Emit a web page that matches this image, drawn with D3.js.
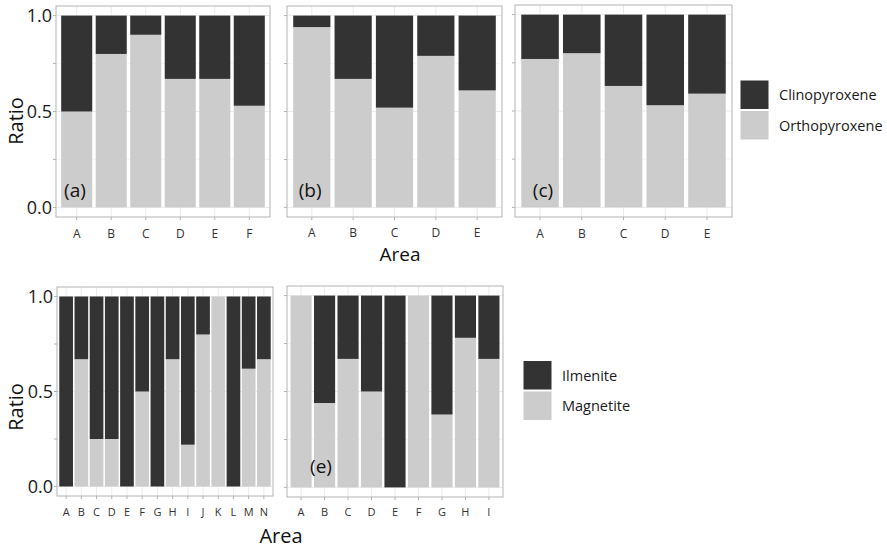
<!DOCTYPE html>
<html lang="en">
<head>
<meta charset="UTF-8">
<title>Mineral ratios by area</title>
<script src="https://cdn.jsdelivr.net/npm/d3@7"></script>
<style>
  body { margin: 0; background: #fff; }
  svg { display: block; font-family: "Open Sans", sans-serif; }
</style>
</head>
<body>
<script>
    // pyroxene panels (a), (b), (c)
    var areasA = ["A", "B", "C", "D", "E", "F"];
    var orthoA = [0.50, 0.80, 0.90, 0.67, 0.67, 0.53];
    var clinoA = [0.50, 0.20, 0.10, 0.33, 0.33, 0.47];

    var areasB = ["A", "B", "C", "D", "E"];
    var orthoB = [0.94, 0.67, 0.52, 0.79, 0.61];
    var clinoB = [0.06, 0.33, 0.48, 0.21, 0.39];

    var areasC = ["A", "B", "C", "D", "E"];
    var orthoC = [0.77, 0.80, 0.63, 0.53, 0.59];
    var clinoC = [0.23, 0.20, 0.37, 0.47, 0.41];

    // oxide panels (d), (e)
    var areasD = ["A", "B", "C", "D", "E", "F", "G", "H", "I", "J", "K", "L", "M", "N"];
    var magnetiteD = [0, 0.67, 0.25, 0.25, 0, 0.50, 0, 0.67, 0.22, 0.80, 1.00, 0, 0.62, 0.67];
    var ilmeniteD = [1.00, 0.33, 0.75, 0.75, 1.00, 0.50, 1.00, 0.33, 0.78, 0.20, 0, 1.00, 0.38, 0.33];

    var areasE = ["A", "B", "C", "D", "E", "F", "G", "H", "I"];
    var magnetiteE = [1.00, 0.44, 0.67, 0.50, 0, 1.00, 0.38, 0.78, 0.67];
    var ilmeniteE = [0, 0.56, 0.33, 0.50, 1.00, 0, 0.62, 0.22, 0.33];

    var yTicks = [0, 0.25, 0.5, 0.75, 1];
    var yTickLabels = ["0.0", "", "0.5", "", "1.0"];

    var width = 887, height = 548;
    var dark = "#333333", light = "#cccccc";

    var svg = d3.select("body").append("svg")
        .attr("width", width)
        .attr("height", height);

    function drawPanel(p) {
        var x = d3.scaleBand()
            .domain(p.cats)
            .range([p.x0, p.x1])
            .paddingInner(0.1)
            .paddingOuter(0.15);
        var y = d3.scaleLinear()
            .domain([-0.05, 1.05])
            .range([p.y1, p.y0]);

        var rows = p.cats.map(function (c, i) {
            var r = {area: c};
            r[p.keys[0]] = p.low[i];
            r[p.keys[1]] = p.high[i];
            return r;
        });
        var series = d3.stack().keys(p.keys)(rows);

        var g = svg.append("g");

        // grid
        g.selectAll(".minor").data([0.25, 0.75]).join("line")
            .attr("x1", p.x0).attr("x2", p.x1)
            .attr("y1", function (d) { return y(d); })
            .attr("y2", function (d) { return y(d); })
            .attr("stroke", "#f0f0f0").attr("stroke-width", 0.6);
        g.selectAll(".major").data([0, 0.5, 1]).join("line")
            .attr("x1", p.x0).attr("x2", p.x1)
            .attr("y1", function (d) { return y(d); })
            .attr("y2", function (d) { return y(d); })
            .attr("stroke", "#e6e6e6").attr("stroke-width", 0.8);
        g.selectAll(".vgrid").data(p.cats).join("line")
            .attr("x1", function (d) { return x(d) + x.bandwidth() / 2; })
            .attr("x2", function (d) { return x(d) + x.bandwidth() / 2; })
            .attr("y1", p.y0).attr("y2", p.y1)
            .attr("stroke", "#e6e6e6").attr("stroke-width", 0.8);

        // bars
        g.selectAll(".layer").data(series).join("g")
            .attr("fill", function (s) { return s.key === p.keys[0] ? light : dark; })
            .selectAll("rect").data(function (s) { return s; }).join("rect")
            .attr("x", function (d) { return x(d.data.area); })
            .attr("width", x.bandwidth())
            .attr("y", function (d) { return y(d[1]); })
            .attr("height", function (d) { return y(d[0]) - y(d[1]); });

        // border
        g.append("rect")
            .attr("x", p.x0).attr("y", p.y0)
            .attr("width", p.x1 - p.x0).attr("height", p.y1 - p.y0)
            .attr("fill", "none").attr("stroke", "#b3b3b3").attr("stroke-width", 1);

        // ticks
        g.selectAll(".ytick").data(yTicks).join("line")
            .attr("x1", p.x0 - 3).attr("x2", p.x0)
            .attr("y1", function (d) { return y(d); })
            .attr("y2", function (d) { return y(d); })
            .attr("stroke", "#b3b3b3");
        g.selectAll(".xtick").data(p.cats).join("line")
            .attr("x1", function (d) { return x(d) + x.bandwidth() / 2; })
            .attr("x2", function (d) { return x(d) + x.bandwidth() / 2; })
            .attr("y1", p.y1).attr("y2", p.y1 + 3)
            .attr("stroke", "#b3b3b3");

        g.selectAll(".xlab").data(p.cats).join("text")
            .attr("x", function (d) { return x(d) + x.bandwidth() / 2; })
            .attr("y", p.y1 + p.xLabGap)
            .attr("text-anchor", "middle")
            .attr("font-size", p.xFont)
            .attr("fill", "#333")
            .text(function (d) { return d; });

        if (p.showY) {
            g.selectAll(".ylab").data(yTicks).join("text")
                .attr("x", p.x0 - 4)
                .attr("y", function (d) { return y(d); })
                .attr("dy", "0.36em")
                .attr("text-anchor", "end")
                .attr("font-size", 18)
                .attr("fill", "#1a1a1a")
                .text(function (d, i) { return yTickLabels[i]; });
        }

        if (p.tag) {
            g.append("text")
                .attr("x", x(p.cats[0]) + x.bandwidth() / 2 + p.tagShift * x.step())
                .attr("y", y(p.tagY))
                .attr("text-anchor", "middle")
                .attr("font-size", 19)
                .attr("fill", "#111")
                .text(p.tag);
        }
    }

    function drawLegend(lx, ly, labels) {
        var fills = [dark, light];
        var g = svg.append("g");
        labels.forEach(function (lab, i) {
            g.append("rect")
                .attr("x", lx).attr("y", ly + i * 30.5)
                .attr("width", 29).attr("height", 29.5)
                .attr("fill", fills[i])
                .attr("stroke", "#fff").attr("stroke-width", 1);
            g.append("text")
                .attr("x", lx + 39).attr("y", ly + i * 30.5 + 15)
                .attr("dy", "0.36em")
                .attr("font-size", 14.5)
                .attr("fill", "#1a1a1a")
                .text(lab);
        });
    }

    function axisTitle(text, tx, ty, rotate, size) {
        svg.append("text")
            .attr("transform", "translate(" + tx + "," + ty + ")" + (rotate ? " rotate(-90)" : ""))
            .attr("text-anchor", "middle")
            .attr("font-size", size)
            .attr("fill", "#111")
            .text(text);
    }

    var pyroxKeys = ["Orthopyroxene", "Clinopyroxene"];
    var oxideKeys = ["Magnetite", "Ilmenite"];

    drawPanel({cats: areasA, keys: pyroxKeys, low: orthoA, high: clinoA,
        x0: 56, x1: 270, y0: 6, y1: 217, showY: true, xFont: 12, xLabGap: 21,
        tag: "(a)", tagShift: -0.05, tagY: 0.055});
    drawPanel({cats: areasB, keys: pyroxKeys, low: orthoB, high: clinoB,
        x0: 287, x1: 502, y0: 6, y1: 217, showY: false, xFont: 12, xLabGap: 20,
        tag: "(b)", tagShift: -0.04, tagY: 0.055});
    drawPanel({cats: areasC, keys: pyroxKeys, low: orthoC, high: clinoC,
        x0: 515, x1: 732, y0: 5, y1: 217, showY: false, xFont: 12, xLabGap: 21,
        tag: "(c)", tagShift: 0.07, tagY: 0.055});
    drawPanel({cats: areasD, keys: oxideKeys, low: magnetiteD, high: ilmeniteD,
        x0: 57, x1: 273, y0: 287, y1: 496, showY: true, xFont: 11, xLabGap: 20,
        tag: null});
    drawPanel({cats: areasE, keys: oxideKeys, low: magnetiteE, high: ilmeniteE,
        x0: 287, x1: 503, y0: 286, y1: 497, showY: false, xFont: 11, xLabGap: 19,
        tag: "(e)", tagShift: 0.85, tagY: 0.075});

    drawLegend(740, 80, ["Clinopyroxene", "Orthopyroxene"]);
    drawLegend(523, 360.5, ["Ilmenite", "Magnetite"]);

    axisTitle("Ratio", 23, 121, true, 20);
    axisTitle("Ratio", 23, 407, true, 20);
    axisTitle("Area", 400, 261, false, 19);
    axisTitle("Area", 281, 543, false, 20);
</script>
</body>
</html>
